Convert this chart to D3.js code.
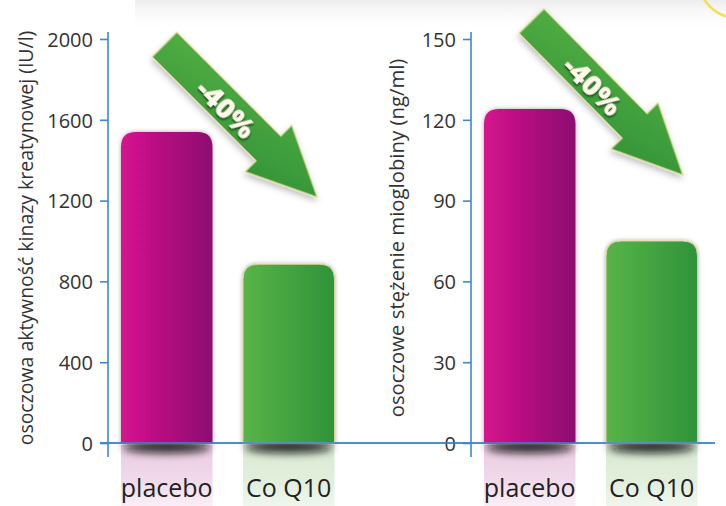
<!DOCTYPE html>
<html><head><meta charset="utf-8">
<script src="https://cdn.jsdelivr.net/npm/d3@7"></script>
<style>
html,body{margin:0;padding:0;background:#fff;}
svg{display:block;}
</style></head>
<body>
<script>
// ---- data ----
const categories = ["placebo", "Co Q10"];
const ckValues = [1540, 885];           // plasma creatine kinase activity (IU/l)
const mbValues = [124, 75];             // plasma myoglobin (ng/ml)
const ckTicks = [0, 400, 800, 1200, 1600, 2000];
const mbTicks = [0, 30, 60, 90, 120, 150];
const ckTitle = "osoczowa aktywność kinazy kreatynowej (IU/l)";
const mbTitle = "osoczowe stężenie mioglobiny (ng/ml)";
const changeLabel = "-40%";

const W = 726, H = 506;
const FONT = "'Open Sans', sans-serif";
const svg = d3.select("body").append("svg").attr("width", W).attr("height", H);
const defs = svg.append("defs");

function lin(id, stops, x2, y2) {
  const g = defs.append("linearGradient").attr("id", id)
    .attr("x1", 0).attr("y1", 0).attr("x2", x2).attr("y2", y2);
  stops.forEach(s => g.append("stop").attr("offset", s[0]).attr("stop-color", s[1]).attr("stop-opacity", s[2] == null ? 1 : s[2]));
}
lin("gPlacebo", [[0, "#d6128e"], [1, "#8d0f70"]], 1, 0);
lin("gCoq", [[0, "#58b448"], [1, "#2f9339"]], 1, 0);
lin("gArrow", [[0, "#54b044"], [1, "#2f9136"]], 1, 1);
lin("gTop", [[0, "#ededed"], [1, "#ffffff", 0]], 0, 1);
lin("rPlacebo", [[0, "#ebcbe2"], [0.6, "#f1dbeb"], [1, "#f8ecf4", 0.8]], 0, 1);
lin("rCoq", [[0, "#d9e9d2"], [0.6, "#e2efdd"], [1, "#edf5ea", 0.8]], 0, 1);

const fBar = defs.append("filter").attr("id", "fBar").attr("x", "-20%").attr("y", "-20%").attr("width", "140%").attr("height", "140%");
fBar.append("feDropShadow").attr("dx", 0).attr("dy", 0).attr("stdDeviation", 2.2).attr("flood-color", "#000").attr("flood-opacity", 0.35);
const fArr = defs.append("filter").attr("id", "fArr").attr("x", "-20%").attr("y", "-20%").attr("width", "140%").attr("height", "140%");
fArr.append("feDropShadow").attr("dx", 2).attr("dy", 3).attr("stdDeviation", 3).attr("flood-color", "#000").attr("flood-opacity", 0.25);
const fBlur = defs.append("filter").attr("id", "fBlur").attr("x", "-50%").attr("y", "-200%").attr("width", "200%").attr("height", "500%");
fBlur.append("feGaussianBlur").attr("stdDeviation", 4);
const fTxt = defs.append("filter").attr("id", "fTxt").attr("x", "-20%").attr("y", "-50%").attr("width", "140%").attr("height", "200%");
fTxt.append("feDropShadow").attr("dx", 1.2).attr("dy", 1.2).attr("stdDeviation", 0.8).attr("flood-color", "#0d2a0d").attr("flood-opacity", 0.9);

// background top shading
svg.append("rect").attr("x", 135).attr("y", 0).attr("width", W - 135).attr("height", 32).attr("fill", "url(#gTop)");
svg.append("circle").attr("cx", 738).attr("cy", -22).attr("r", 40).attr("fill", "none").attr("stroke", "#f3e04a").attr("stroke-width", 2.5);

const AXIS = "#3f86d4";
const baseY = 443, topY = 39;

function barPath(x0, y0, w, h, r) {
  r = Math.min(r, h);
  return `M${x0},${y0 + h}V${y0 + r}Q${x0},${y0} ${x0 + r},${y0}H${x0 + w - r}Q${x0 + w},${y0} ${x0 + w},${y0 + r}V${y0 + h}Z`;
}

function panel(o) {
  const g = svg.append("g");
  const y = d3.scaleLinear().domain([0, o.ticks[o.ticks.length - 1]]).range([baseY, topY]);
  const x = d3.scaleBand().domain(categories).range(o.range).paddingInner(0.25).paddingOuter(0.125);
  const fills = ["url(#gPlacebo)", "url(#gCoq)"];
  const refl = ["url(#rPlacebo)", "url(#rCoq)"];

  // reflections below axis
  g.selectAll("rect.refl").data(categories).join("rect")
    .attr("x", d => x(d)).attr("y", baseY + 2).attr("width", x.bandwidth()).attr("height", H - baseY)
    .attr("fill", (d, i) => refl[i]);
  // base shadows
  g.selectAll("ellipse.sh").data(categories).join("ellipse")
    .attr("cx", d => x(d) + x.bandwidth() / 2).attr("cy", baseY + 4)
    .attr("rx", x.bandwidth() * 0.48).attr("ry", 6)
    .attr("fill", "#111").attr("opacity", 0.9).attr("filter", "url(#fBlur)");
  // bars
  g.selectAll("path.bar").data(o.values).join("path")
    .attr("d", (v, i) => barPath(x(categories[i]), y(v), x.bandwidth(), baseY - y(v), 15))
    .attr("fill", (v, i) => fills[i])
    .attr("stroke", (v, i) => i === 1 ? "#ddd49a" : "none").attr("stroke-width", 1)
    .attr("filter", "url(#fBar)");

  // y axis
  const ax = g.append("g").attr("transform", `translate(${o.axisX},0)`)
    .call(d3.axisLeft(y).tickValues(o.ticks).tickFormat(d3.format("d")).tickSize(8).tickPadding(7));
  ax.attr("font-size", 20).attr("font-family", FONT);
  ax.select(".domain").remove();
  ax.selectAll(".tick line").attr("stroke", AXIS).attr("stroke-width", 1.6);
  ax.selectAll(".tick text").attr("fill", "#333").attr("font-family", FONT)
    .attr("font-size", 20).attr("dy", "0.36em");
  g.append("line").attr("x1", o.axisX).attr("x2", o.axisX).attr("y1", 32).attr("y2", 457)
    .attr("stroke", AXIS).attr("stroke-width", 1.6);

  // category labels
  g.selectAll("text.cat").data(categories).join("text")
    .attr("x", d => x(d) + x.bandwidth() / 2).attr("y", 497)
    .attr("text-anchor", "middle").attr("font-family", FONT)
    .attr("font-size", 25).attr("fill", "#222").text(d => d);

  // y title, sized to fit its span
  const t = g.append("text").attr("transform", `translate(${o.titleX},${o.titleY}) rotate(-90)`)
    .attr("text-anchor", "middle").attr("font-family", FONT)
    .attr("font-size", 16).attr("fill", "#333").text(o.title);
  const len = t.node().getComputedTextLength();
  t.attr("font-size", 16 * o.titleLen / len);

  // arrow
  const L = 216, Lb = 147, hw = 17.5, hh = 33;
  const pts = [[0, -hw], [Lb, -hw], [Lb, -hh], [L, 0], [Lb, hh], [Lb, hw], [0, hw]];
  const ag = svg.append("g").attr("transform", `translate(${o.arrow[0]},${o.arrow[1]}) rotate(${o.arrow[2]})`);
  ag.append("path").attr("d", d3.line()(pts) + "Z").attr("fill", "url(#gArrow)")
    .attr("stroke", "#e4dc9c").attr("stroke-width", 1.2).attr("filter", "url(#fArr)");
  ag.append("text").attr("x", 89).attr("y", 0).attr("text-anchor", "middle").attr("dominant-baseline", "central")
    .attr("font-family", FONT).attr("font-weight", 800).attr("font-size", 29)
    .attr("fill", "#fffbea").attr("filter", "url(#fTxt)").text(changeLabel);
}

// shared x axis line
svg.append("line").attr("x1", 100).attr("x2", 715).attr("y1", baseY).attr("y2", baseY)
  .attr("stroke", AXIS).attr("stroke-width", 1.6);

panel({ values: ckValues, ticks: ckTicks, range: [105.75, 349.75], axisX: 108,
        title: ckTitle, titleX: 33, titleY: 238, titleLen: 415, arrow: [164.5, 44.5, 45] });
panel({ values: mbValues, ticks: mbTicks, range: [468.75, 712.75], axisX: 471,
        title: mbTitle, titleX: 404, titleY: 238, titleLen: 359, arrow: [531.5, 21, 45.5] });

// redraw x axis on top
svg.append("line").attr("x1", 100).attr("x2", 715).attr("y1", baseY).attr("y2", baseY)
  .attr("stroke", AXIS).attr("stroke-width", 1.6);
</script>
</body></html>
